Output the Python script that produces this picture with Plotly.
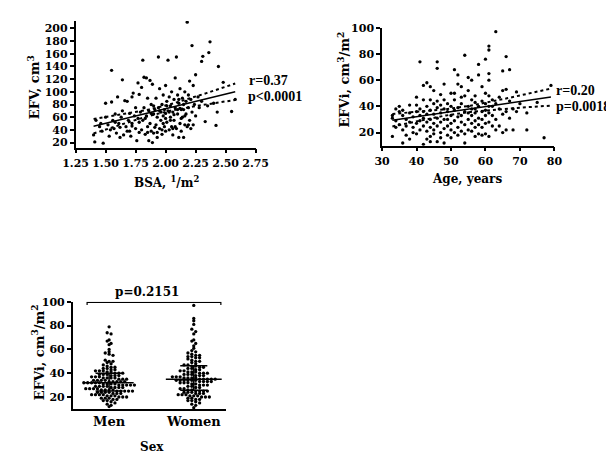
import numpy as np
import plotly.graph_objects as go

# ---------------- data: EFV vs BSA ----------------
bsa = [1.40, 1.41, 1.42, 1.45, 1.47, 1.48, 1.50, 1.50, 1.52, 1.53, 1.55, 1.55, 1.56, 1.57, 1.58, 1.59,
       1.60, 1.61, 1.62, 1.63, 1.64, 1.64, 1.65, 1.66, 1.67, 1.68,
       1.69, 1.70, 1.70, 1.71, 1.72, 1.72, 1.73, 1.74, 1.75, 1.75,
       1.76, 1.77, 1.77, 1.78, 1.78, 1.79, 1.80, 1.80, 1.81, 1.81,
       1.82, 1.82, 1.83, 1.84, 1.84, 1.85, 1.85, 1.86, 1.86, 1.87,
       1.87, 1.88, 1.88, 1.89, 1.89, 1.90, 1.90, 1.91, 1.92, 1.92,
       1.93, 1.93, 1.94, 1.94, 1.95, 1.95, 1.96, 1.96, 1.97, 1.97,
       1.98, 1.98, 1.99, 1.99, 2.00, 2.00, 2.00, 2.01, 2.01, 2.02,
       2.02, 2.03, 2.03, 2.04, 2.04, 2.05, 2.05, 2.06, 2.06, 2.07,
       2.07, 2.08, 2.08, 2.09, 2.09, 2.10, 2.10, 2.11, 2.11, 2.12,
       2.12, 2.13, 2.13, 2.14, 2.14, 2.15, 2.15, 2.16, 2.16, 2.17,
       2.17, 2.18, 2.18, 2.19, 2.19, 2.20, 2.20, 2.21, 2.21, 2.22,
       2.22, 2.23, 2.23, 2.24, 2.25, 2.25, 2.27, 2.28, 2.30, 2.31,
       2.30, 2.33, 2.35, 2.36, 2.37, 2.40, 2.42, 2.43, 2.44, 2.48,
       2.55, 2.58,
       1.78, 1.83, 1.88, 1.91, 1.95, 1.98, 2.01, 2.04, 2.07, 2.10,
       2.13, 2.16, 2.19, 1.85, 1.90, 1.97, 2.03, 2.08, 2.12, 1.72,
       1.68, 1.62, 1.58, 1.54, 1.46, 1.93, 2.00, 2.06, 2.11, 2.15]
efv = [32, 21, 55, 45, 38, 19, 82, 60, 48, 30, 84, 134, 55, 42, 65, 35,
       92, 50, 28, 60, 119, 70, 32, 86, 45, 85,
       55, 38, 66, 30, 92, 50, 98, 62, 42, 75,
       23, 114, 58, 36, 96, 68, 40, 107, 150, 55,
       123, 75, 33, 62, 122, 45, 90, 23, 70, 118,
       50, 38, 80, 20, 112, 65, 35, 72, 48, 90,
       28, 60, 155, 75, 42, 105, 68, 55, 33, 80,
       62, 95, 45, 72, 110, 38, 66, 85, 52, 150,
       70, 40, 92, 60, 78, 45, 100, 68, 32, 88,
       55, 122, 75, 155, 42, 95, 65, 82, 28, 50,
       105, 72, 38, 90, 60, 28, 80, 48, 100, 85,
       65, 210, 45, 95, 75, 117, 55, 88, 42, 173,
       68, 110, 48, 80, 127, 62, 92, 75, 148, 156,
       85, 53, 78, 162, 179, 82, 47, 68, 140, 115,
       69, 88,
       52, 58, 66, 44, 70, 50, 78, 55, 64, 72,
       58, 62, 48, 36, 78, 40, 68, 45, 74, 46,
       38, 44, 52, 40, 50, 36, 58, 42, 88, 72]

# ---------------- data: EFVi vs Age ----------------
age = [33, 33, 33,
       34, 34, 34,
       35, 35, 35,
       36, 36, 36, 36,
       37, 37, 37,
       38, 38, 38, 38,
       39, 39, 39,
       40, 40, 40, 40, 40,
       41, 41, 41, 41, 41,
       42, 42, 42, 42, 42, 42,
       43, 43, 43, 43, 43, 43,
       44, 44, 44, 44, 44, 44, 44,
       45, 45, 45, 45, 45, 45,
       46, 46, 46, 46, 46, 46, 46,
       47, 47, 47, 47, 47, 47,
       48, 48, 48, 48, 48, 48,
       49, 49, 49, 49, 49,
       50, 50, 50, 50, 50, 50,
       51, 51, 51, 51, 51, 51,
       52, 52, 52, 52, 52, 52,
       53, 53, 53, 53, 53, 53,
       54, 54, 54, 54, 54, 54,
       55, 55, 55, 55, 55, 55,
       56, 56, 56, 56, 56, 56,
       57, 57, 57, 57, 57, 57, 57,
       58, 58, 58, 58, 58, 58,
       59, 59, 59, 59, 59, 59,
       60, 60, 60, 60, 60, 60, 60,
       61, 61, 61, 61, 61, 61, 61, 61, 61,
       62, 62, 62, 62,
       63, 63, 63, 63,
       64, 64, 64,
       65, 65, 65, 65,
       66, 66, 66, 66,
       67, 67, 67,
       68, 68,
       69, 69,
       70,
       72, 72,
       75,
       77,
       79]
efvi_age = [17, 31, 33,
            24, 38, 29,
            36, 26, 40,
            12, 22, 33, 37,
            18, 30, 25,
            15, 41, 28, 35,
            20, 32, 24,
            47, 19, 27, 36, 41,
            74, 22, 33, 29, 38,
            11, 56, 25, 31, 45, 36,
            58, 15, 28, 40, 21, 34,
            17, 55, 45, 30, 24, 37, 13,
            42, 22, 34, 27, 52, 19,
            74, 69, 13, 39, 31, 25, 44,
            20, 35, 28, 49, 16, 41,
            12, 57, 30, 23, 38, 45,
            25, 36, 18, 42, 30,
            50, 22, 33, 40, 27, 16,
            68, 29, 37, 45, 20, 50,
            64, 24, 39, 57, 32, 18,
            33, 47, 21, 28, 42, 55,
            79, 12, 36, 26, 48, 19,
            62, 30, 40, 22, 35, 52,
            60, 21, 33, 45, 27, 38,
            17, 38, 29, 43, 24, 35, 48,
            72, 64, 31, 19, 40, 26,
            55, 24, 36, 44, 18, 30,
            76, 50, 33, 19, 42, 27, 37,
            86, 83, 65, 60, 48, 17, 35, 28, 40,
            40, 25, 33, 45,
            97, 30, 42, 22,
            25, 38, 47,
            67, 34, 52, 20,
            78, 53, 22, 36,
            68, 31, 44,
            22, 38,
            51, 36,
            42,
            22, 35,
            43,
            16,
            56]

# ---------------- data: EFVi by sex ----------------
sex_labels = ["Men", "Women"]
men = [79, 74, 73, 68, 67, 65, 64, 60, 58, 57, 56, 55, 51, 50, 50, 49, 48, 47, 46, 45, 45,
       44, 44, 43, 43, 42, 42, 42, 41, 41, 40, 40, 40, 39, 39, 39, 38, 38, 38, 37, 37, 37,
       36, 36, 36, 36, 35, 35, 35, 34, 34, 34, 34, 33, 33, 33, 33, 33, 32, 32, 32, 32, 32,
       31, 31, 31, 31, 30, 30, 30, 30, 30, 29, 29, 29, 29, 28, 28, 28, 28, 27, 27, 27, 27,
       26, 26, 26, 26, 25, 25, 25, 25, 25, 24, 24, 24, 24, 23, 23, 23, 22, 22, 22, 22,
       21, 21, 21, 20, 20, 20, 19, 19, 19, 18, 18, 17, 17, 16, 15, 14, 13, 12]
women = [97, 86, 84, 81, 77, 75, 73, 68, 67, 65, 63, 61, 59, 58, 57, 56, 55, 55, 54, 54,
         53, 53, 52, 51, 50, 50, 49, 48, 47, 47, 46, 46, 45, 45, 44, 44, 43, 43, 42, 42,
         41, 41, 41, 40, 40, 40, 39, 39, 39, 38, 38, 38, 37, 37, 37, 36, 36, 36, 36,
         35, 35, 35, 35, 35, 34, 34, 34, 34, 34, 34, 33, 33, 33, 33, 32, 32, 32, 31, 31,
         30, 30, 30, 29, 29, 28, 28, 27, 27, 26, 26, 25, 25, 25, 25, 24, 24, 24, 23, 23, 23,
         22, 22, 22, 21, 21, 21, 20, 20, 20, 19, 19, 18, 18, 17, 17, 16, 15, 14, 13, 11]

# ---------------- styling ----------------
FAM = "DejaVu Serif"
FAM2 = "Liberation Serif"
TF = dict(family=FAM, size=11, color="black", weight="bold")


def axis(domain, rng, anchor, **kw):
    d = dict(domain=domain, range=rng, anchor=anchor, showline=True, linecolor="black",
             linewidth=1.5, ticks="outside", ticklen=4, tickwidth=1.5, tickcolor="black",
             showgrid=False, zeroline=False, tickfont=TF, fixedrange=True)
    d.update(kw)
    return d


def fit_with_band(x, y, n_pts=60):
    x = np.asarray(x, float)
    y = np.asarray(y, float)
    n = len(x)
    b, a = np.polyfit(x, y, 1)
    resid = y - (a + b * x)
    s = np.sqrt(np.sum(resid ** 2) / (n - 2))
    sxx = np.sum((x - x.mean()) ** 2)
    xs = np.linspace(x.min(), x.max(), n_pts)
    yh = a + b * xs
    se = s * np.sqrt(1.0 / n + (xs - x.mean()) ** 2 / sxx)
    t = 1.97
    return xs, yh, yh - t * se, yh + t * se


def swarm_offsets(vals, binw=2.5, dx=0.046):
    vals = np.asarray(vals, float)
    bins = np.floor(vals / binw).astype(int)
    off = np.zeros(len(vals))
    for bidx in np.unique(bins):
        idx = np.where(bins == bidx)[0]
        k = len(idx)
        off[idx] = (np.arange(k) - (k - 1) / 2.0) * dx
    return off


fig = go.Figure()

MK = dict(color="black", size=3.3, symbol="circle")

# panel 1
fig.add_trace(go.Scatter(x=bsa, y=efv, mode="markers", marker=MK, xaxis="x", yaxis="y",
                         hoverinfo="skip"))
xs, yh, lo, hi = fit_with_band(bsa, efv)
fig.add_trace(go.Scatter(x=xs, y=yh, mode="lines", line=dict(color="black", width=1.5),
                         xaxis="x", yaxis="y"))
for band in (lo, hi):
    fig.add_trace(go.Scatter(x=xs, y=band, mode="lines",
                             line=dict(color="black", width=2, dash="dot"), xaxis="x", yaxis="y"))

# panel 2
fig.add_trace(go.Scatter(x=age, y=efvi_age, mode="markers", marker=MK, xaxis="x2", yaxis="y2"))
xs, yh, lo, hi = fit_with_band(age, efvi_age)
fig.add_trace(go.Scatter(x=xs, y=yh, mode="lines", line=dict(color="black", width=1.5),
                         xaxis="x2", yaxis="y2"))
for band in (lo, hi):
    fig.add_trace(go.Scatter(x=xs, y=band, mode="lines",
                             line=dict(color="black", width=2, dash="dot"), xaxis="x2", yaxis="y2"))

# panel 3
for i, grp in enumerate([men, women]):
    c = i + 1
    off = swarm_offsets(grp)
    fig.add_trace(go.Scatter(x=c + off, y=grp, mode="markers", marker=MK,
                             xaxis="x3", yaxis="y3", cliponaxis=False))
    q1, med, q3 = np.percentile(grp, [25, 50, 75])
    hw = 0.29 if i == 0 else 0.33
    cw = 0.16
    fig.add_trace(go.Scatter(x=[c - hw, c + hw], y=[med, med], mode="lines",
                             line=dict(color="black", width=1.5), xaxis="x3", yaxis="y3"))
    fig.add_trace(go.Scatter(x=[c, c], y=[q1, q3], mode="lines",
                             line=dict(color="black", width=1.5), xaxis="x3", yaxis="y3"))
    for q in (q1, q3):
        fig.add_trace(go.Scatter(x=[c - cw, c + cw], y=[q, q], mode="lines",
                                 line=dict(color="black", width=1.5), xaxis="x3", yaxis="y3"))

# significance bracket
fig.add_trace(go.Scatter(x=[0.74, 0.74, 2.32, 2.32], y=[97.3, 99.6, 99.6, 97.3], mode="lines",
                         line=dict(color="black", width=1.2), xaxis="x3", yaxis="y3",
                         cliponaxis=False))

W, H = 614, 453


def px_x(v):
    return v / W


def px_y(v):
    return 1 - v / H


fig.update_layout(
    width=W, height=H, margin=dict(l=0, r=0, t=0, b=0),
    paper_bgcolor="white", plot_bgcolor="white", showlegend=False,
    xaxis=axis([px_x(57), px_x(245)], [1.25, 2.75], "y", tick0=1.25, dtick=0.25,
               tickformat=".2f"),
    yaxis=axis([px_y(136), px_y(7)], [12, 212], "x", tickvals=[20, 40, 60, 80, 100, 120, 140, 160, 180, 200]),
    xaxis2=axis([px_x(377), px_x(557)], [30, 80], "y2", dtick=10),
    yaxis2=axis([px_y(134), px_y(14)], [10, 100], "x2", tickvals=[20, 40, 60, 80, 100]),
    xaxis3=axis([px_x(54), px_x(214)], [0.57, 2.38], "y3", tickvals=[1, 2], ticktext=sex_labels,
                ticks="", tickfont=dict(family=FAM, size=13, color="black", weight="bold")),
    yaxis3=axis([px_y(402), px_y(293)], [10, 100], "x3", tickvals=[20, 40, 60, 80, 100]),
)


def ann(text, x, y, size, angle=0, xanchor="center", family=FAM):
    fig.add_annotation(text=text, x=px_x(x), y=px_y(y), xref="paper", yref="paper",
                       showarrow=False, textangle=angle, xanchor=xanchor, yanchor="middle",
                       font=dict(size=size, family=family, color="black", weight="bold"))


ann("EFV, cm<sup>3</sup>", 13, 74, 13, angle=-90)
ann("BSA, <sup>1</sup>/m<sup>2</sup>", 152, 171, 12)
ann("r=0.37", 236, 68, 14, xanchor="left", family=FAM2)
ann("p&lt;0.0001", 235, 84, 14, xanchor="left", family=FAM2)

ann("EFVi, cm<sup>3</sup>/m<sup>2</sup>", 337, 67, 13, angle=-90)
ann("Age, years", 466, 168, 12)
ann("r=0.20", 557, 78, 14, xanchor="left", family=FAM2)
ann("p=0.0018", 557, 94, 14, xanchor="left", family=FAM2)

ann("EFVi, cm<sup>3</sup>/m<sup>2</sup>", 18, 344, 13, angle=-90)
ann("Sex", 137, 441, 12)
ann("p=0.2151", 132, 283, 12)

fig.write_html("out.html")
